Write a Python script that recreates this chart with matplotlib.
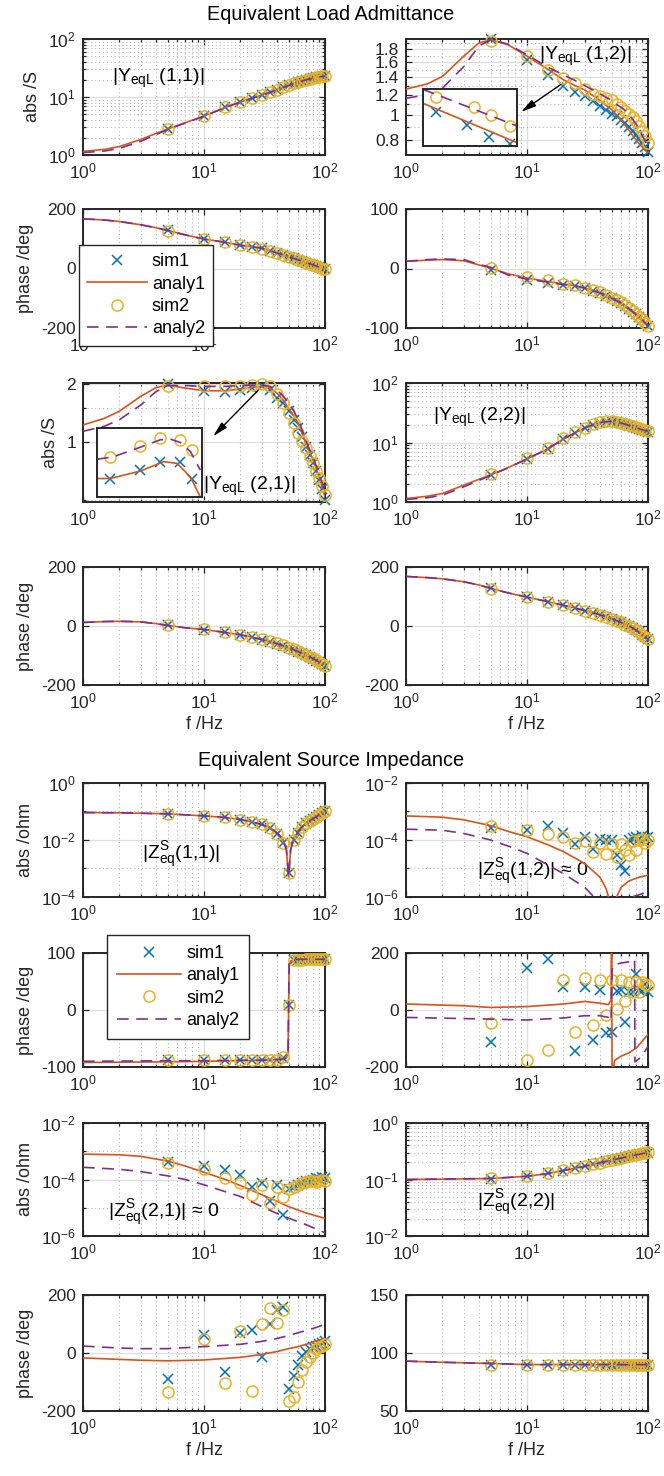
import matplotlib
matplotlib.use('Agg')
import matplotlib.pyplot as plt
from matplotlib.ticker import FixedLocator, FixedFormatter, NullFormatter, NullLocator
from matplotlib.lines import Line2D

plt.rcParams['font.family'] = ['Liberation Sans', 'DejaVu Sans']
plt.rcParams['mathtext.fontset'] = 'custom'
plt.rcParams['mathtext.rm'] = 'Liberation Sans'
plt.rcParams['mathtext.it'] = 'Liberation Sans:italic'
plt.rcParams['mathtext.bf'] = 'Liberation Sans:bold'
plt.rcParams['axes.unicode_minus'] = False

BLUE, ORANGE, YELLOW, PURPLE = '#0072BD', '#D95319', '#EDB120', '#7E2F8E'
DARK = '#262626'

# ---------------- data ----------------
f_sim = [5, 10, 15, 20, 25, 30, 35, 40, 45, 50, 55, 60, 65, 70, 75, 80, 85, 90, 95, 100]
f_line = [1, 1.5, 2, 3, 4, 5, 7, 10, 15, 20, 25, 30, 35, 40, 45, 50, 55, 60, 65, 70, 75, 80, 85, 90, 95, 100]

# Equivalent load admittance
y11_an1 = [1.15, 1.25, 1.4, 1.85, 2.35, 2.8, 3.6, 4.7, 6.6, 8.2, 9.5, 10.8, 12.0, 13.3, 14.6, 15.8, 17.0, 18.0, 19.0, 19.8, 20.5, 21.2, 21.8, 22.2, 22.6, 23.0]
y11_an2 = [1.1, 1.17, 1.3, 1.72, 2.25, 2.75, 3.55, 4.65, 6.6, 8.2, 9.5, 10.8, 12.0, 13.3, 14.6, 15.8, 17.0, 18.0, 19.0, 19.8, 20.5, 21.2, 21.8, 22.2, 22.6, 23.0]
y11_sim1 = [2.8, 4.7, 6.6, 8.2, 9.5, 10.8, 12.0, 13.3, 14.6, 15.8, 17.0, 18.0, 19.0, 19.8, 20.5, 21.2, 21.8, 22.2, 22.6, 23.0]
y11_sim2 = [2.85, 4.75, 6.6, 8.3, 9.6, 10.9, 12.1, 13.4, 14.8, 16.0, 17.2, 18.3, 19.2, 20.0, 20.8, 21.5, 22.0, 22.5, 22.9, 23.3]

y12_an1 = [1.26, 1.32, 1.41, 1.69, 1.9, 1.96, 1.87, 1.69, 1.5, 1.37, 1.3, 1.25, 1.19, 1.14, 1.09, 1.05, 1.0, 0.96, 0.91, 0.87, 0.83, 0.8, 0.77, 0.75, 0.73, 0.71]
y12_an2 = [1.16, 1.2, 1.27, 1.54, 1.85, 1.96, 1.88, 1.71, 1.53, 1.43, 1.36, 1.3, 1.25, 1.21, 1.17, 1.14, 1.1, 1.07, 1.04, 1.0, 0.96, 0.92, 0.88, 0.83, 0.79, 0.75]
y12_sim1 = [1.97, 1.64, 1.43, 1.30, 1.23, 1.18, 1.13, 1.08, 1.05, 1.01, 0.99, 0.96, 0.93, 0.90, 0.87, 0.84, 0.81, 0.78, 0.75, 0.72]
y12_sim2 = [1.93, 1.69, 1.50, 1.39, 1.33, 1.26, 1.21, 1.19, 1.16, 1.14, 1.10, 1.07, 1.04, 1.01, 0.98, 0.95, 0.91, 0.87, 0.83, 0.78]

p11_an = [167, 163, 158, 147, 137, 128, 113, 99, 88, 78, 73, 68, 60, 52, 46, 40, 34, 29, 24, 20, 16, 12, 8, 4, 1, -2]
p11_sim1 = [128, 99, 88, 78, 73, 68, 60, 52, 46, 40, 34, 29, 24, 20, 16, 12, 8, 4, 1, -2]
p11_sim2 = [127, 100, 88, 79, 73, 67, 60, 53, 46, 40, 35, 29, 24, 20, 16, 12, 8, 4, 0, -2]

p12_an1 = [12, 14, 15, 13, 6, 0.5, -9, -16, -22, -26, -29, -33, -37, -41, -46, -50, -54, -58, -63, -68, -73, -78, -82, -86, -92, -97]
p12_an2 = [12, 15, 16, 15, 7, 2, -11, -18, -23, -27, -29, -33, -37, -41, -46, -50, -54, -58, -63, -68, -73, -78, -82, -86, -92, -97]
p12_sim1 = [-2, -19, -24, -27, -29, -33, -37, -41, -46, -50, -54, -58, -63, -68, -73, -77, -82, -86, -92, -97]
p12_sim2 = [1, -15, -20, -26, -28, -32, -36, -40, -45, -49, -53, -57, -62, -67, -72, -76, -81, -85, -91, -96]

y21_an1 = [1.23, 1.33, 1.45, 1.73, 1.92, 1.98, 1.91, 1.85, 1.85, 1.89, 1.93, 1.95, 1.92, 1.8, 1.66, 1.5, 1.38, 1.26, 1.1, 0.97, 0.88, 0.8, 0.72, 0.65, 0.58, 0.52]
y21_an2 = [1.14, 1.21, 1.31, 1.56, 1.83, 1.97, 1.97, 1.95, 1.95, 1.97, 1.98, 1.98, 1.95, 1.87, 1.74, 1.6, 1.46, 1.31, 1.15, 1.01, 0.91, 0.83, 0.75, 0.68, 0.61, 0.54]
y21_sim1 = [2.0, 1.85, 1.83, 1.87, 1.91, 1.95, 1.87, 1.69, 1.6, 1.45, 1.31, 1.19, 1.07, 0.95, 0.86, 0.78, 0.71, 0.64, 0.57, 0.5]
y21_sim2 = [1.97, 1.95, 1.95, 1.97, 1.98, 2.0, 1.95, 1.78, 1.6, 1.42, 1.26, 1.12, 1.01, 0.93, 0.85, 0.78, 0.71, 0.65, 0.59, 0.53]

y22_an1 = [1.14, 1.25, 1.39, 1.92, 2.4, 2.85, 3.8, 5.3, 7.9, 11.5, 14.5, 17.5, 20, 21.5, 22.3, 22.5, 22, 21.2, 20.3, 19.3, 18.5, 17.8, 17, 16.3, 15.8, 15.3]
y22_an2 = [1.1, 1.18, 1.3, 1.8, 2.3, 2.8, 3.75, 5.3, 7.9, 11.5, 14.5, 17.5, 20, 21.5, 22.3, 22.5, 22, 21.2, 20.3, 19.3, 18.5, 17.8, 17, 16.3, 15.8, 15.3]
y22_sim1 = [2.85, 5.3, 7.9, 11.5, 14.5, 17.5, 20, 21.5, 22.3, 22.5, 22, 21.2, 20.3, 19.3, 18.5, 17.8, 17, 16.3, 15.8, 15.3]
y22_sim2 = [2.9, 5.4, 8.1, 11.7, 14.8, 17.8, 20.3, 21.8, 22.6, 22.8, 22.3, 21.5, 20.6, 19.6, 18.8, 18.0, 17.2, 16.6, 16.0, 15.5]

p21_an = [12, 15, 16, 14, 8, 2, -6, -12, -22, -30, -38, -46, -53, -60, -67, -74, -80, -87, -93, -99, -105, -111, -117, -123, -129, -135]
p21_sim1 = [2, -12, -22, -30, -38, -46, -53, -60, -67, -74, -80, -87, -93, -99, -105, -111, -117, -123, -129, -135]
p21_sim2 = [3, -11, -21, -29, -37, -45, -52, -59, -66, -73, -79, -86, -92, -98, -104, -110, -116, -122, -128, -134]

p22_an = [168, 164, 160, 150, 139, 128, 112, 98, 82, 70, 61, 52, 45, 38, 31, 25, 18, 12, 6, 0, -7, -15, -22, -30, -38, -45]
p22_sim1 = [128, 98, 82, 70, 61, 52, 45, 38, 31, 25, 18, 12, 6, 0, -7, -15, -22, -30, -38, -45]
p22_sim2 = [127, 99, 82, 70, 60, 52, 44, 37, 31, 24, 18, 12, 5, 0, -7, -14, -22, -30, -37, -44]

# Equivalent source impedance
z11_f = [1, 2, 5, 10, 15, 20, 25, 30, 35, 40, 45, 48, 50, 52, 55, 60, 65, 70, 75, 80, 85, 90, 95, 100]
z11_an = [0.092, 0.09, 0.083, 0.07, 0.062, 0.052, 0.043, 0.035, 0.027, 0.018, 0.0105, 0.0045, 0.0005, 0.0045, 0.0105, 0.02, 0.03, 0.04, 0.048, 0.057, 0.066, 0.078, 0.09, 0.105]
z11_sim1 = [0.083, 0.07, 0.062, 0.052, 0.043, 0.035, 0.027, 0.016, 0.008, 0.00068, 0.01, 0.017, 0.028, 0.038, 0.047, 0.056, 0.066, 0.077, 0.089, 0.104]
z11_sim2 = [0.083, 0.07, 0.062, 0.052, 0.043, 0.035, 0.027, 0.016, 0.008, 0.00068, 0.01, 0.017, 0.028, 0.038, 0.047, 0.056, 0.066, 0.077, 0.089, 0.104]

z12_f1 = [1, 2, 3, 5, 7, 10, 15, 20, 30, 40, 45, 47.5, 50, 55, 60, 70, 85, 100]
z12_an1 = [7.0e-4, 6.3e-4, 5.1e-4, 3.2e-4, 2.0e-4, 1.3e-4, 6.7e-5, 3.9e-5, 1.5e-5, 5.0e-6, 2.0e-6, 9e-7, 1e-9, 1.0e-6, 2.2e-6, 3.7e-6, 5.0e-6, 5.8e-6]
z12_f2 = [1, 2, 3, 5, 7, 10, 15, 20, 30, 35, 40, 50, 70, 85, 100]
z12_an2 = [2.4e-4, 2.2e-4, 1.7e-4, 1.0e-4, 6.1e-5, 3.4e-5, 1.3e-5, 6.6e-6, 2.2e-6, 1.1e-6, 5e-7, 1e-9, 9.5e-7, 1.2e-6, 1.6e-6]
z12_sim1 = [2.6e-4, 2.3e-4, 3.0e-4, 1.7e-4, 7.5e-5, 1.3e-4, 5e-5, 1.1e-4, 1.0e-4, 1.0e-4, 3e-5, 1.3e-5, 8e-6, 1.0e-4, 1.2e-4, 1.3e-4, 1.1e-4, 1.4e-4, 1.2e-4, 1.3e-4]
z12_sim2 = [3.0e-4, 2.3e-4, 1.6e-4, 1.3e-4, 8e-5, 9e-5, 3.8e-5, 8e-5, 3.3e-5, 7e-5, 2.6e-5, 7e-5, 4.5e-5, 3e-5, 9e-5, 4.5e-5, 1.0e-4, 1.1e-4, 8e-5, 1.0e-4]

q11_f = [1, 5, 10, 20, 30, 40, 45, 48, 49.5, 50, 50.5, 52, 55, 60, 70, 80, 90, 100]
q11_an1 = [-92, -91, -90, -89, -88, -87, -86, -84, -75, 0, 80, 86, 88, 89, 89, 89, 89, 89]
q11_an2 = [-90, -89, -89, -88, -88, -87, -86, -84, -75, 0, 80, 86, 88, 89, 89, 89, 89, 89]
q11_sim1 = [-88, -88, -88, -88, -88, -88, -88, -87, -84, 8, 88, 88, 88, 89, 89, 89, 89, 89, 89, 89]
q11_sim2 = [-88, -88, -88, -88, -88, -88, -88, -87, -82, 8, 88, 88, 88, 89, 89, 89, 89, 89, 89, 89]

q12_f1 = [1, 3, 5, 10, 20, 30, 40, 47, 49.5, 50, 50.5, 53, 60, 70, 80, 90, 100]
q12_an1 = [21, 15, 9, 12, 21, 30, 24, 19, 35, 230, -230, -177, -162, -150, -133, -109, -85]
q12_f2 = [1, 5, 10, 20, 30, 40, 47, 49.5, 50.5, 52, 60, 70, 77.5, 78, 85, 90, 100]
q12_an2 = [-26, -32, -35, -28, -20, -20, -26, -40, 140, 158, 165, 169, 178, -182, -170, -160, -127]
q12_sim1 = [-111, 146, 178, 80, -144, 80, -107, 69, -82, -78, 68, 70, -42, 62, 62, 128, 70, 65, 90, 62]
q12_sim2 = [-44, -177, -142, 106, -77, 112, -52, 106, -18, 106, 4, 106, 33, 98, 63, 98, 63, 98, 92, 86]

z21_f = [1, 2, 3, 5, 7, 10, 15, 20, 30, 40, 50, 70, 100]
z21_an1 = [7.9e-4, 7.5e-4, 6.6e-4, 4.5e-4, 3.0e-4, 1.8e-4, 1.0e-4, 6.1e-5, 2.9e-5, 1.7e-5, 1.1e-5, 6.5e-6, 4.2e-6]
z21_an2 = [2.7e-4, 2.3e-4, 1.9e-4, 1.35e-4, 1.0e-4, 6.5e-5, 3.7e-5, 2.5e-5, 1.1e-5, 6.3e-6, 4.3e-6, 2.5e-6, 1.3e-6]
z21_sim1 = [4.3e-4, 2.9e-4, 2.2e-4, 1.5e-4, 5.3e-5, 7.5e-5, 1.7e-5, 6.6e-5, 5.6e-6, 4.6e-5, 5.5e-5, 6.6e-5, 7.5e-5, 8.5e-5, 9e-5, 1.0e-4, 1.1e-4, 1.05e-4, 1.2e-4, 1.1e-4]
z21_sim2 = [3.8e-4, 2.4e-4, 1.1e-4, 7.3e-5, 2.9e-5, 6.6e-5, 1.5e-5, 5.5e-5, 2.5e-5, 4.6e-5, 5.5e-5, 6.6e-5, 7.3e-5, 8e-5, 8.5e-5, 8.5e-5, 8e-5, 9e-5, 1.0e-4, 9e-5]

z22_f = [1, 5, 10, 15, 20, 30, 40, 50, 70, 100]
z22_an = [0.1, 0.104, 0.114, 0.128, 0.144, 0.172, 0.197, 0.22, 0.258, 0.3]
z22_sim1 = [0.104, 0.114, 0.128, 0.144, 0.158, 0.172, 0.185, 0.197, 0.209, 0.22, 0.23, 0.24, 0.249, 0.258, 0.266, 0.274, 0.281, 0.288, 0.294, 0.3]
z22_sim2 = [0.105, 0.115, 0.129, 0.145, 0.159, 0.173, 0.186, 0.198, 0.21, 0.222, 0.232, 0.242, 0.251, 0.26, 0.268, 0.276, 0.283, 0.29, 0.296, 0.302]

q21_f = [1, 2, 3, 5, 10, 20, 30, 40, 50, 60, 70, 80, 90, 100]
q21_an1 = [-17, -22, -25, -27, -24, -15, -5, 5, 15, 22, 30, 38, 45, 52]
q21_an2 = [24, 17, 15, 15, 22, 30, 40, 50, 60, 70, 78, 85, 92, 100]
q21_sim1 = [-90, 63, -65, 70, 80, -15, 100, 150, 160, -125, -80, -40, -10, 5, 15, 20, 25, 30, 35, 40]
q21_sim2 = [-135, 50, -105, 75, -130, 100, 155, 105, 150, -165, -150, -100, -60, -30, -15, 0, 15, 20, 25, 30]

q22_f = [1, 2, 5, 10, 20, 50, 100]
q22_an = [93, 92, 91, 90, 90, 90, 90]
q22_sim = [90, 90, 90, 90, 90, 90, 90, 90, 90, 90, 90, 90, 90, 90, 90, 90, 90, 90, 90, 90]

# zoomed insets (normalised inset coordinates)
ins12_u = [0.133, 0.473, 0.706, 0.921]
ins12_sim1 = [0.602, 0.368, 0.164, 0.035]
ins12_u2 = [0.133, 0.538, 0.724, 0.921]
ins12_sim2 = [0.865, 0.678, 0.544, 0.351]
ins12_lu = [0, 1]
ins12_an1 = [0.749, 0.058]
ins12_an2 = [0.994, 0.351]

ins21_u = [0.127, 0.413, 0.603, 0.794, 0.905]
ins21_sim1 = [0.268, 0.39, 0.512, 0.512, 0.268]
ins21_sim2 = [0.585, 0.741, 0.854, 0.82, 0.683]
ins21_lu1 = [0, 0.127, 0.413, 0.635, 0.762, 0.889, 0.984]
ins21_an1 = [0.268, 0.268, 0.376, 0.512, 0.488, 0.293, 0.0]
ins21_lu2 = [0, 0.159, 0.413, 0.603, 0.698, 0.794, 0.889, 0.984]
ins21_an2 = [0.546, 0.585, 0.722, 0.829, 0.839, 0.79, 0.66, 0.39]

# ---------------- layout ----------------
W, H = 664, 1476
fig = plt.figure(figsize=(W / 100, H / 100), dpi=100)
COLS = [83, 406]
AW = 242
ROWS = [(39, 155), (209, 328), (383, 502), (567, 685),
        (783, 897), (953, 1067), (1123, 1236), (1295, 1411)]
FS = 13      # axis labels / legend
TK = 12.5    # tick labels
TXT = 14     # annotations


def px_axes(x0, top, x1, bot):
    return fig.add_axes([x0 / W, 1 - bot / H, (x1 - x0) / W, (bot - top) / H])


def make_ax(r, c):
    top, bot = ROWS[r]
    return px_axes(COLS[c], top, COLS[c] + AW, bot)


XMINOR = [2, 3, 4, 5, 6, 7, 8, 9, 20, 30, 40, 50, 60, 70, 80, 90]


def style(ax, ylim, yticks, ylog=False, ylabels=None, yminor=None):
    ax.set_xscale('log')
    ax.set_xlim(1, 100)
    ax.xaxis.set_major_locator(FixedLocator([1, 10, 100]))
    ax.xaxis.set_minor_locator(FixedLocator(XMINOR))
    ax.xaxis.set_minor_formatter(NullFormatter())
    if ylog:
        ax.set_yscale('log')
    ax.set_ylim(*ylim)
    ax.yaxis.set_major_locator(FixedLocator(yticks))
    if ylabels is not None:
        ax.yaxis.set_major_formatter(FixedFormatter(ylabels))
    if yminor is not None:
        ax.yaxis.set_minor_locator(FixedLocator(yminor))
    else:
        ax.yaxis.set_minor_locator(NullLocator())
    ax.yaxis.set_minor_formatter(NullFormatter())
    ax.grid(True, which='major', color='#dedede', lw=0.9, ls='-')
    ax.grid(True, which='minor', color='#b8b8b8', lw=0.8, ls=(0, (1, 2.5)))
    ax.set_axisbelow(True)
    ax.tick_params(which='both', direction='in', top=True, right=True,
                   colors=DARK, labelsize=TK, width=0.9)
    ax.tick_params(which='major', length=4)
    ax.tick_params(axis='x', which='major', pad=5)
    ax.tick_params(axis='y', which='major', pad=5)
    ax.tick_params(which='minor', length=2)
    for s in ax.spines.values():
        s.set_linewidth(1.4)
        s.set_color(DARK)


def draw(ax, s1, s2, f1, a1, f2=None, a2=None):
    if f2 is None:
        f2 = f1
    if a2 is None:
        a2 = a1
    ax.plot(f_sim, s1, ls='none', marker='x', color=BLUE, ms=7.5, mew=1.1, clip_on=False, zorder=3)
    ax.plot(f1, a1, '-', color=ORANGE, lw=1.2, zorder=4)
    ax.plot(f_sim, s2, ls='none', marker='o', mfc='none', mec=YELLOW, ms=8, mew=1.1, clip_on=False, zorder=5)
    ax.plot(f2, a2, color=PURPLE, lw=1.2, dashes=(7, 4.5), zorder=6)


def inset(x0, top, x1, bot):
    a = px_axes(x0, top, x1, bot)
    a.set_xlim(0, 1)
    a.set_ylim(0, 1)
    a.set_xticks([])
    a.set_yticks([])
    a.set_facecolor('white')
    for s in a.spines.values():
        s.set_linewidth(1.4)
        s.set_color(DARK)
    return a


def arrow(ax, head, tail):
    ax.annotate('', xy=head, xytext=tail,
                arrowprops=dict(arrowstyle='-|>,head_length=0.9,head_width=0.22',
                                color='black', lw=1.0, shrinkA=0, shrinkB=0))


def ylab(ax, s):
    ax.set_ylabel(s, fontsize=FS, color=DARK, labelpad=5)


def xlab(ax):
    ax.set_xlabel('f /Hz', fontsize=FS, color=DARK, labelpad=3)


# ---------- Equivalent Load Admittance ----------
fig.text(331 / W, 1 - 15 / H, 'Equivalent Load Admittance', ha='center', va='center', fontsize=14.3, color='black')

ax = make_ax(0, 0)
style(ax, (1, 100), [1, 10, 100], ylog=True,
      yminor=[2, 3, 4, 5, 6, 7, 8, 9, 20, 30, 40, 50, 60, 70, 80, 90])
draw(ax, y11_sim1, y11_sim2, f_line, y11_an1, f_line, y11_an2)
ylab(ax, 'abs /S')
ax.text(1.75, 21, '|Y$_{\\mathrm{eqL}}$ (1,1)|', fontsize=TXT, va='center')

ax = make_ax(0, 1)
style(ax, (0.70, 1.97), [0.8, 1, 1.2, 1.4, 1.6, 1.8], ylog=True,
      ylabels=['0.8', '1', '1.2', '1.4', '1.6', '1.8'], yminor=[0.9, 1.1, 1.3, 1.5, 1.7, 1.9])
draw(ax, y12_sim1, y12_sim2, f_line, y12_an1, f_line, y12_an2)
ax.text(12.6, 1.69, '|Y$_{\\mathrm{eqL}}$ (1,2)|', fontsize=TXT, va='center')
arrow(ax, (8.9, 1.027), (19.8, 1.33))
ia = inset(423, 89, 517, 146)
ia.plot(ins12_u, ins12_sim1, ls='none', marker='x', color=BLUE, ms=7.5, mew=1.1)
ia.plot(ins12_lu, ins12_an1, '-', color=ORANGE, lw=1.2)
ia.plot(ins12_u2, ins12_sim2, ls='none', marker='o', mfc='none', mec=YELLOW, ms=8, mew=1.1)
ia.plot(ins12_lu, ins12_an2, color=PURPLE, lw=1.2, dashes=(7, 4.5))

ax = make_ax(1, 0)
style(ax, (-200, 200), [-200, 0, 200])
draw(ax, p11_sim1, p11_sim2, f_line, p11_an)
ylab(ax, 'phase /deg')

ax = make_ax(1, 1)
style(ax, (-100, 100), [-100, 0, 100])
draw(ax, p12_sim1, p12_sim2, f_line, p12_an1, f_line, p12_an2)

ax = make_ax(2, 0)
style(ax, (0.49, 2.03), [1, 2], ylog=True, ylabels=['1', '2'], yminor=[0.5, 1.5])
draw(ax, y21_sim1, y21_sim2, f_line, y21_an1, f_line, y21_an2)
ylab(ax, 'abs /S')
ax.text(9.8, 0.59, '|Y$_{\\mathrm{eqL}}$ (2,1)|', fontsize=TXT, va='center')
arrow(ax, (11.9, 1.074), (27.9, 1.856))
ia = inset(97, 428, 202, 497)
ia.plot(ins21_u, ins21_sim1, ls='none', marker='x', color=BLUE, ms=7.5, mew=1.1)
ia.plot(ins21_lu1, ins21_an1, '-', color=ORANGE, lw=1.2)
ia.plot(ins21_u, ins21_sim2, ls='none', marker='o', mfc='none', mec=YELLOW, ms=8, mew=1.1)
ia.plot(ins21_lu2, ins21_an2, color=PURPLE, lw=1.2, dashes=(7, 4.5))

ax = make_ax(2, 1)
style(ax, (1, 100), [1, 10, 100], ylog=True,
      yminor=[2, 3, 4, 5, 6, 7, 8, 9, 20, 30, 40, 50, 60, 70, 80, 90])
draw(ax, y22_sim1, y22_sim2, f_line, y22_an1, f_line, y22_an2)
ax.text(1.67, 26, '|Y$_{\\mathrm{eqL}}$ (2,2)|', fontsize=TXT, va='center')

ax = make_ax(3, 0)
style(ax, (-200, 200), [-200, 0, 200])
draw(ax, p21_sim1, p21_sim2, f_line, p21_an)
ylab(ax, 'phase /deg')
xlab(ax)

ax = make_ax(3, 1)
style(ax, (-200, 200), [-200, 0, 200])
draw(ax, p22_sim1, p22_sim2, f_line, p22_an)
xlab(ax)

handles = [Line2D([], [], ls='none', marker='x', color=BLUE, ms=7.5, mew=1.1),
           Line2D([], [], color=ORANGE, lw=1.2),
           Line2D([], [], ls='none', marker='o', mfc='none', mec=YELLOW, ms=8, mew=1.1),
           Line2D([], [], color=PURPLE, lw=1.2, dashes=(7, 4.5))]
names = ['sim1', 'analy1', 'sim2', 'analy2']


def legend(x0, top, pad, hl):
    lg = fig.legend(handles, names, loc='upper left', bbox_to_anchor=(x0 / W, 1 - top / H),
                    fontsize=FS, frameon=True, fancybox=False, framealpha=1,
                    edgecolor=DARK, handlelength=hl, labelspacing=0.3,
                    borderpad=pad, handletextpad=0.28, borderaxespad=0)
    lg.get_frame().set_linewidth(1.0)
    return lg


legend(79, 245, 0.45, 3.3)

# ---------- Equivalent Source Impedance ----------
fig.text(331 / W, 1 - 760 / H, 'Equivalent Source Impedance', ha='center', va='center', fontsize=14.3, color='black')

ax = make_ax(4, 0)
style(ax, (1e-4, 1), [1e-4, 1e-2, 1], ylog=True, yminor=[1e-3, 1e-1])
draw(ax, z11_sim1, z11_sim2, z11_f, z11_an)
ylab(ax, 'abs /ohm')
ax.text(3.07, 3e-3, '|Z$^{\\mathrm{S}}_{\\mathrm{eq}}$(1,1)|', fontsize=TXT, va='center')

ax = make_ax(4, 1)
style(ax, (1e-6, 1e-2), [1e-6, 1e-4, 1e-2], ylog=True, yminor=[1e-5, 1e-3])
draw(ax, z12_sim1, z12_sim2, z12_f1, z12_an1, z12_f2, z12_an2)
ax.text(3.86, 7.6e-6, '|Z$^{\\mathrm{S}}_{\\mathrm{eq}}$(1,2)| \u2248 0', fontsize=TXT, va='center')

ax = make_ax(5, 0)
style(ax, (-100, 100), [-100, 0, 100])
draw(ax, q11_sim1, q11_sim2, q11_f, q11_an1, q11_f, q11_an2)
ylab(ax, 'phase /deg')

ax = make_ax(5, 1)
style(ax, (-200, 200), [-200, 0, 200])
draw(ax, q12_sim1, q12_sim2, q12_f1, q12_an1, q12_f2, q12_an2)

legend(107, 935, 0.55, 3.55)

ax = make_ax(6, 0)
style(ax, (1e-6, 1e-2), [1e-6, 1e-4, 1e-2], ylog=True, yminor=[1e-5, 1e-3])
draw(ax, z21_sim1, z21_sim2, z21_f, z21_an1, z21_f, z21_an2)
ylab(ax, 'abs /ohm')
ax.text(1.61, 6.3e-6, '|Z$^{\\mathrm{S}}_{\\mathrm{eq}}$(2,1)| \u2248 0', fontsize=TXT, va='center')

ax = make_ax(6, 1)
style(ax, (1e-2, 1), [1e-2, 1e-1, 1], ylog=True,
      yminor=[0.02, 0.03, 0.04, 0.05, 0.06, 0.07, 0.08, 0.09, 0.2, 0.3, 0.4, 0.5, 0.6, 0.7, 0.8, 0.9])
draw(ax, z22_sim1, z22_sim2, z22_f, z22_an)
ax.text(3.86, 0.039, '|Z$^{\\mathrm{S}}_{\\mathrm{eq}}$(2,2)|', fontsize=TXT, va='center')

ax = make_ax(7, 0)
style(ax, (-200, 200), [-200, 0, 200])
draw(ax, q21_sim1, q21_sim2, q21_f, q21_an1, q21_f, q21_an2)
ylab(ax, 'phase /deg')
xlab(ax)

ax = make_ax(7, 1)
style(ax, (50, 150), [50, 100, 150])
draw(ax, q22_sim, q22_sim, q22_f, q22_an)
xlab(ax)

fig.savefig('out.png', dpi=100)
